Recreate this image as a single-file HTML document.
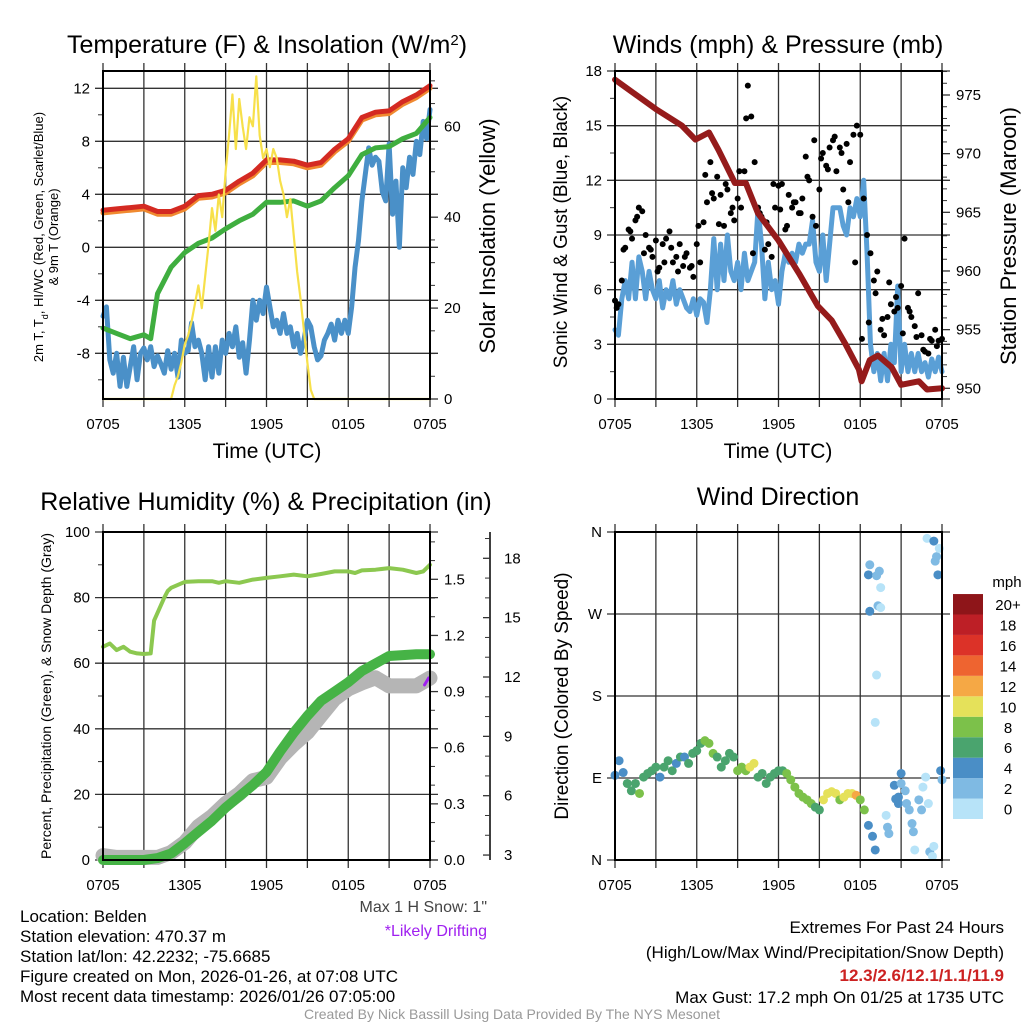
<!DOCTYPE html>
<html><head><meta charset="utf-8"><style>
html,body{margin:0;padding:0;background:#fff;}
svg{display:block;font-family:"Liberation Sans",Arial,sans-serif;}
</style></head><body>
<svg id="chart" xmlns="http://www.w3.org/2000/svg" width="1024" height="1024" viewBox="0 0 1024 1024">
<rect x="0" y="0" width="1024" height="1024" fill="#fff"/>
<text x="267" y="53" font-size="25" text-anchor="middle">Temperature (F) &amp; Insolation (W/m<tspan baseline-shift="super" font-size="15">2</tspan>)</text>
<text x="778" y="53" font-size="25" text-anchor="middle">Winds (mph) &amp; Pressure (mb)</text>
<text x="266" y="510" font-size="25" text-anchor="middle">Relative Humidity (%) &amp; Precipitation (in)</text>
<text x="778" y="505" font-size="25" text-anchor="middle">Wind Direction</text>
<text x="267" y="458" font-size="21" text-anchor="middle">Time (UTC)</text>
<text x="778" y="458" font-size="21" text-anchor="middle">Time (UTC)</text>
<text transform="translate(43,237) rotate(-90)" font-size="13" text-anchor="middle">2m T, T<tspan baseline-shift="sub" font-size="9">d</tspan>, HI/WC (Red, Green, Scarlet/Blue)</text>
<text transform="translate(58,237) rotate(-90)" font-size="13" text-anchor="middle">&amp; 9m T (Orange)</text>
<text transform="translate(495,236) rotate(-90)" font-size="22" text-anchor="middle">Solar Insolation (Yellow)</text>
<text transform="translate(567,232) rotate(-90)" font-size="19" text-anchor="middle">Sonic Wind &amp; Gust (Blue, Black)</text>
<text transform="translate(1016,236) rotate(-90)" font-size="22" text-anchor="middle">Station Pressure (Maroon)</text>
<text transform="translate(51,696) rotate(-90)" font-size="14" text-anchor="middle">Percent, Precipitation (Green), &amp; Snow Depth (Gray)</text>
<text transform="translate(568,696) rotate(-90)" font-size="19" text-anchor="middle">Direction (Colored By Speed)</text>
<text x="1007" y="587" font-size="15" text-anchor="middle">mph</text>
<text x="487" y="912" font-size="16" text-anchor="end" fill="#444">Max 1 H Snow: 1"</text>
<text x="487" y="936" font-size="16" text-anchor="end" fill="#a020f0">*Likely Drifting</text>
<g font-size="17">
<text x="20" y="922">Location: Belden</text>
<text x="20" y="942">Station elevation: 470.37 m</text>
<text x="20" y="962">Station lat/lon: 42.2232; -75.6685</text>
<text x="20" y="982">Figure created on Mon, 2026-01-26, at 07:08 UTC</text>
<text x="20" y="1002">Most recent data timestamp: 2026/01/26 07:05:00</text>
</g>
<g font-size="17" text-anchor="end">
<text x="1004" y="933">Extremes For Past 24 Hours</text>
<text x="1004" y="958">(High/Low/Max Wind/Precipitation/Snow Depth)</text>
<text x="1004" y="981" fill="#cc2222" font-weight="bold">12.3/2.6/12.1/1.1/11.9</text>
<text x="1004" y="1003">Max Gust: 17.2 mph On 01/25 at 1735 UTC</text>
</g>
<text x="512" y="1019" font-size="14" text-anchor="middle" fill="#999">Created By Nick Bassill Using Data Provided By The NYS Mesonet</text>
</svg>
<script>
// ---------- DATA ----------
const timeLabels = ['0705','1305','1905','0105','0705'];
// panel 1 (hourly, hours since 0705)
const tempF = [2.8,2.9,3.0,3.1,2.7,2.7,3.1,3.9,4.0,4.3,5.0,5.6,6.6,6.6,6.5,6.2,6.4,7.4,8.2,9.8,10.2,10.3,11.0,11.5,12.2];
const temp9mF = [2.6,2.7,2.8,2.9,2.5,2.5,2.9,3.7,3.8,4.1,4.8,5.4,6.4,6.4,6.3,6.0,6.2,7.2,8.0,9.6,10.0,10.1,10.8,11.3,12.0];
const dewTimes = [0,1,2,3,3.5,4,5,6,7,8,9,10,11,12,13,14,15,16,17,18,19,20,21,22,23,24];
const dewF = [-6.1,-6.5,-6.9,-6.6,-6.9,-3.5,-1.5,-0.4,0.3,0.7,1.4,2.0,2.5,3.4,3.4,3.5,3.1,3.5,4.5,5.4,7.0,7.5,7.6,8.2,8.6,9.8];
// quarter-hourly
const windChillF = [-5.2,-4.5,-8.5,-9.5,-8,-10.5,-8.3,-10.5,-9,-7.5,-10,-8,-7.6,-8.5,-7.5,-9,-8.2,-8.8,-9.5,-7.8,-9.2,-8,-9.8,-7,-8,-7.8,-5.7,-7.5,-7,-8,-10,-7.5,-9.8,-7.5,-9.5,-7,-8,-6.5,-7.5,-6,-8.3,-7.2,-9.5,-7,-4,-5.5,-4,-5,-3,-4.5,-6,-5.5,-6.5,-5,-6.5,-6,-7.5,-6.5,-8,-7,-5.5,-6,-7.5,-8.5,-8.2,-7,-6.5,-5.8,-7,-5.5,-6.5,-5.5,-6.5,-4.5,-1.5,0.5,3.5,5.5,7.5,6.2,6.8,6.5,4.2,3.5,7.8,2.5,5,0,6,4.5,6.8,5.5,8,7,9.5,8.2,10.4];
const insolation = [0,0,0,0,0,0,0,0,0,0,0,0,0,0,0,0,0,0,0,0,0,3,5,8,12,14,17,21,25,20,27,34,42,37,45,40,50,58,67,55,66,60,55,62,60,71,58,53,55,51,55,53,48,45,40,44,36,28,22,15,8,2,0,0,0,0,0,0,0,0,0,0,0,0,0,0,0,0,0,0,0,0,0,0,0,0,0,0,0,0,0,0,0,0,0,0,0];
// panel 2
const pressTimes = [0,3,4.9,5.9,6.9,7.6,8.8,9.6,10.5,12,13.5,14.9,15.9,16.9,17.9,18.1,18.7,19.3,20.3,21,22.3,22.9,24];
const pressMb = [976.3,973.8,972.4,971.2,971.8,970.3,967.5,967.5,964.9,962.6,959.8,957,955.8,953.8,951.6,950.6,952.4,952.8,951.8,950.3,950.6,949.9,950];
const windMph = [3.8,3.5,5.5,6.5,5.5,7.5,5.5,7.8,7,5.5,7,6,5.5,6.5,5,6,5.5,6.5,5.2,6,5.5,5,4.8,5.5,4.6,5.5,5.3,4.2,6,8.8,6,8.5,6.5,9,7,6.5,7.5,6,8,6.5,7,7.5,10.5,8.5,5.5,7.5,6,6.5,5.2,7,8,7.5,8,7.5,8.5,8,8.5,8.5,9.8,7.5,7,9,6.5,8.5,10.5,10.5,10.5,9.5,9,10.5,10,11,10,12,8,3,1.5,2.5,1,2.5,1,3,2,6.2,1.5,3,1.5,2.5,1.5,2.5,1.5,2,1.2,2.2,1.5,2.3,1.5];
const gustMph = [5.4,5.2,6.5,8.3,9.3,8.8,9.8,10.5,10.3,9,8.3,7.8,8.7,7.2,8.5,8.8,9.2,7.5,7.8,8.5,7.3,8,7.2,6.7,8.5,7.5,9.7,10.8,13,11,12.2,11.2,9.5,11.5,10.2,9.8,11,10.5,12.5,17.2,15.5,13,10.5,10,8.2,8.5,7.8,10.5,11.7,11.8,9.3,11.2,10.5,10.8,10.2,11,13.3,12,10,9.5,11.5,13.5,12.8,13.8,14.2,12.5,13.8,11.5,14,13,14.5,15,14.5,11,9,8,6.5,7,3.8,3.5,4.5,5.2,4.8,5,6.2,8.8,5,4.5,4,5.8,3.5,2.6,2.5,3.2,3.8,3.2,3.3];
const gust2Mph = [5,8.2,9.2,10,8,8.2,7,7.5,8.3,7,7.8,7.3,9.5,12.3,11.3,9.6,11.8,10.5,12.5,15.4,8,10.2,9.7,11.8,10.4,9.5,10.8,10.2,12.2,14.2,13.2,12.6,14.4,13.5,10.8,7.5,3.3,4.2,5.8,4.4,6.4,5.6,3.6,4.8,3.4,2.7,3.3,2.9];
// panel 3
const rhTimes = [0,0.5,1,1.5,2,2.5,3,3.5,3.75,4.5,4.75,5,6,7,8,8.5,9,10,11,12,13,14,15,16,17,18,18.5,19,20,21,22,23,23.5,24];
const rhPct = [65,66,64,65,63.5,63,62.8,63,73,80,82,83,84.8,85,85,84.5,85,84.5,85.5,86,86.5,87,86.5,87.2,88,88,87.5,88.3,88.5,89,88.5,87.5,88,90];
const precipIn = [0,0,0,0,0.01,0.035,0.09,0.15,0.21,0.28,0.34,0.40,0.47,0.58,0.68,0.77,0.85,0.90,0.95,1.01,1.05,1.09,1.095,1.10,1.10];
const snowIn = [2.97,2.88,2.88,2.88,2.88,3.13,3.63,4.45,4.95,5.6,6.1,6.76,6.93,7.9,8.6,9.2,10.06,10.9,11.4,11.7,11.96,11.55,11.55,11.55,11.95];
// panel 4
const dirTimes = [0,0.3,0.6,0.9,1.2,1.5,1.8,2.1,2.4,2.7,3,3.3,3.6,3.9,4.2,4.5,4.8,5.1,5.4,5.7,6,6.3,6.6,6.9,7.2,7.5,7.8,8.1,8.4,8.7,9,9.3,9.6,9.9,10.2,10.5,10.8,11.1,11.4,11.7,12,12.3,12.6,12.9,13.2,13.5,13.8,14.1,14.4,14.7,15,15.3,15.6,15.9,16.2,16.5,16.8,17.1,17.4,17.7,18,18.3,18.6,18.9,19.1,18.6,18.7,18.7,19.2,19.4,19.5,19.3,19.5,19.2,19.1,19.9,20,20.1,20.5,20.6,20.8,20.8,21,21,21.3,21.4,21.6,21.8,21.9,22,22.3,22.5,22.6,22.8,23,23.1,23.3,23.4,23.9,24,22.9,23.4,23.5,23.6,23.7,23.8];
const dirDeg = [93,109,96,84,76,84,73,91,95,98,102,91,102,109,98,106,113,113,106,117,120,128,131,128,117,113,102,109,117,113,98,102,98,102,106,91,95,84,91,95,98,98,95,88,80,73,69,66,62,58,55,66,73,75,73,66,69,73,73,71,66,55,38,26,11,313,324,273,312,317,299,279,277,203,151,49,36,29,82,67,69,62,95,84,76,62,55,40,31,11,66,55,80,91,62,9,4,15,98,88,353,350,328,333,313,342];
const dirSpd = [4,4,4,6,6,6,8,6,6,6,6,4,6,6,6,4,6,4,6,6,6,6,8,8,8,6,6,6,6,6,8,8,8,10,10,6,6,6,6,6,6,6,8,8,8,8,8,8,8,6,6,10,10,10,10,8,10,10,10,12,8,8,4,4,4,4,2,4,2,2,0,2,0,0,0,0,2,2,4,4,4,4,4,2,2,2,2,2,2,0,2,2,0,0,0,2,0,0,4,2,0,4,2,2,4,0];
const speedBins = ['0','2','4','6','8','10','12','14','16','18','20+'];
const speedColors = ['#b7e3f8','#7fbae3','#4a8ec6','#4aa46e','#7cc14a','#e5e15a','#f5a845','#ee6430','#dc3228','#bd1f26','#8e1519'];

// ---------- DRAWING ----------
const NS='http://www.w3.org/2000/svg';
const svg=document.getElementById('chart');
function mk(tag,attrs,parent){const e=document.createElementNS(NS,tag);for(const k in attrs)e.setAttribute(k,attrs[k]);(parent||svg).appendChild(e);return e;}
const P1={x0:103,x1:430,y0:71,y1:399},P2={x0:615,x1:942,y0:71,y1:399},P3={x0:103,x1:430,y0:532,y1:860},P4={x0:615,x1:942,y0:532,y1:860};
function xs(P,t){return P.x0+t/24*(P.x1-P.x0);}
function lin(v0,p0,v1,p1){return v=>p0+(v-v0)*(p1-p0)/(v1-v0);}
const y1L=lin(0,247.3,12,88.3), y1R=lin(0,399,60,126.3);
const y2L=lin(0,399,18,71), y2R=lin(950,388.3,975,95);
const y3L=lin(0,860,100,532), y3R=lin(0,860,1.5,579.3), y3S=lin(6,795.7,18,558.3);
const y4=lin(0,860,360,532);

function frame(P,key){
  const g=mk('g',{});
  
  
  for(let t=0;t<=24;t+=3){
    const x=xs(P,t);
    const l=mk('line',{x1:x,x2:x,y1:P.y0-8,y2:P.y1+8,stroke:'#333','stroke-width':1.3},g);
    
    
  }
  timeLabels.forEach((s,i)=>{
    const tx=mk('text',{x:xs(P,i*6),y:P.y1+30,'font-size':15,'text-anchor':'middle'});
    tx.textContent=s;
    
    
  });
}
function hgrid(P,key,vals,f,labels){
  vals.forEach((v,i)=>{
    const y=f(v);
    const l=mk('line',{x1:P.x0-8,x2:P.x1+8,y1:y,y2:y,stroke:'#333','stroke-width':1.3});
    
    
    const tx=mk('text',{x:P.x0-13,y:y+5,'font-size':15,'text-anchor':'end'});
    tx.textContent=labels[i];
    
    
  });
}
function minorL(P,key,vals,f){
  vals.forEach(v=>{const y=f(v);
    const l=mk('line',{x1:P.x0-5,x2:P.x0,y1:y,y2:y,stroke:'#333','stroke-width':1});
    
    });
}
function rightAxis(x,key,majors,labels,minors,f,len,dir){
  majors.forEach((v,i)=>{const y=f(v);
    const l=mk('line',{x1:x,x2:x+dir*len,y1:y,y2:y,stroke:'#333','stroke-width':1.3});
    
    
    const tx=mk('text',{x:x+(dir>0?len+6:14),y:y+5,'font-size':15});
    tx.textContent=labels[i];
    
    });
  minors.forEach(v=>{const y=f(v);
    const l=mk('line',{x1:x,x2:x+dir*5,y1:y,y2:y,stroke:'#333','stroke-width':1});
    
    });
}
function border(P,key){
  const r=mk('rect',{x:P.x0,y:P.y0,width:P.x1-P.x0,height:P.y1-P.y0,fill:'none',stroke:'#000','stroke-width':2});
  
  
}
function line(P,times,vals,f,color,w,name){
  const pts=vals.map((v,i)=>xs(P,times(i))+','+f(v).toFixed(1)).join(' ');
  const pl=mk('polyline',{points:pts,fill:'none',stroke:color,'stroke-width':w,'stroke-linejoin':'round','stroke-linecap':'round'});
  
  
}
const hourly=i=>i, quarter=i=>i*0.25;

// Panel 1
frame(P1,'temp');
hgrid(P1,'temp',[12,8,4,0,-4,-8],y1L,['12','8','4','0','-4','-8']);
minorL(P1,'temp',[10,6,2,-2,-6,-10],y1L);
rightAxis(P1.x1,'insolation-axis',[0,20,40,60],['0','20','40','60'],[5,10,15,25,30,35,45,50,55,65,70],y1R,8,1);
line(P1,quarter,windChillF,y1L,'#4a90c8',5,'windchill-line');
line(P1,i=>dewTimes[i],dewF,y1L,'#3fae3f',5,'dewpoint-line');
line(P1,hourly,temp9mF,y1L,'#f08a30',5,'temp-9m-line');
line(P1,hourly,tempF,y1L,'#d42a22',5,'temp-2m-line');
line(P1,quarter,insolation,y1R,'#f7e04a',2.2,'insolation-line');
border(P1,'temp');

// Panel 2
frame(P2,'wind');
hgrid(P2,'wind',[0,3,6,9,12,15,18],y2L,['0','3','6','9','12','15','18']);
minorL(P2,'wind',[1.5,4.5,7.5,10.5,13.5,16.5],y2L);
rightAxis(P2.x1,'pressure-axis',[950,955,960,965,970,975],['950','955','960','965','970','975'],[951,952,953,954,956,957,958,959,961,962,963,964,966,967,968,969,971,972,973,974,976,977],y2R,8,1);
line(P2,quarter,windMph,y2L,'#5a9fd6',5,'wind-speed-line');
gustMph.forEach((v,i)=>{
  const c=mk('circle',{cx:xs(P2,i*0.25),cy:y2L(v),r:3,fill:'#000'});
  
  
});
gust2Mph.forEach((v,i)=>{
  const c=mk('circle',{cx:xs(P2,i*0.5+0.125),cy:y2L(v),r:3,fill:'#000'});
  
  
});
line(P2,i=>pressTimes[i],pressMb,y2R,'#951b1b',6,'pressure-line');
border(P2,'wind');

// Panel 3
frame(P3,'rh');
hgrid(P3,'rh',[0,20,40,60,80,100],y3L,['0','20','40','60','80','100']);
minorL(P3,'rh',[10,30,50,70,90],y3L);
rightAxis(P3.x1,'precip-axis',[0,0.3,0.6,0.9,1.2,1.5],['0.0','0.3','0.6','0.9','1.2','1.5'],[0.1,0.2,0.4,0.5,0.7,0.8,1.0,1.1,1.3,1.4,1.6,1.7],y3R,8,1);
{const l=mk('line',{x1:490,x2:490,y1:532,y2:860,stroke:'#000','stroke-width':1.5});
 
 }
rightAxis(490,'snow-axis',[3,6,9,12,15,18],['3','6','9','12','15','18'],[4,5,7,8,10,11,13,14,16,17,19],y3S,7,-1);
line(P3,hourly,snowIn,y3S,'#b5b5b5',15,'snow-depth-line');
line(P3,hourly,precipIn,y3R,'#46b346',10,'precip-line');
line(P3,i=>rhTimes[i],rhPct,y3L,'#8cc850',4,'rh-line');
{const pp=mk('line',{x1:xs(P3,23.6),y1:y3S(11.6),x2:xs(P3,23.9),y2:y3S(11.95),stroke:'#a020f0','stroke-width':3,'stroke-linecap':'round'});
 
 }
border(P3,'rh');

// Panel 4
frame(P4,'dir');
hgrid(P4,'dir',[0,90,180,270,360],y4,['N','E','S','W','N']);
dirDeg.forEach((d,i)=>{
  const c=mk('circle',{cx:xs(P4,dirTimes[i]),cy:y4(d),r:4.5,fill:speedColors[Math.min(10,Math.round(dirSpd[i]/2))]});
  
  
});
border(P4,'dir');
// colorbar
speedBins.forEach((s,i)=>{
  const y=819-(i+1)*20.45;
  const r=mk('rect',{x:953,y:y,width:30,height:20.45,fill:speedColors[i]});
  
  
  const tx=mk('text',{x:1008,y:y+16,'font-size':15,'text-anchor':'middle'});
  tx.textContent=s;
  
  
});
</script>
</body></html>
